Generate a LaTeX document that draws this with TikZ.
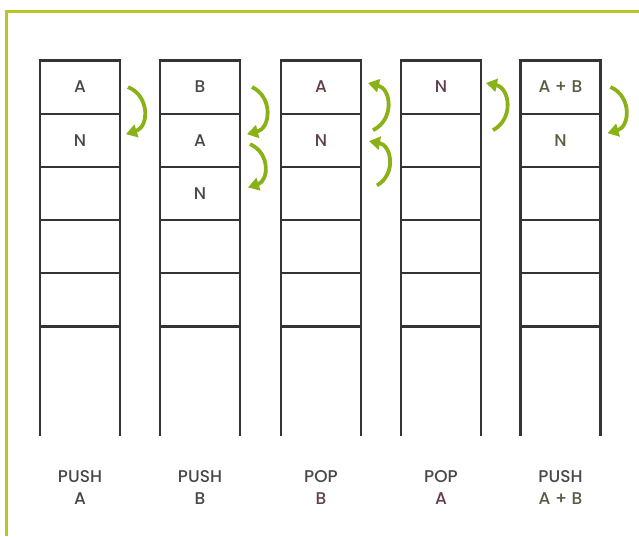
\documentclass[tikz,border=0pt]{standalone}
\usepackage{fontspec}
\setmainfont{Poppins}[UprightFont=* Medium]
\usetikzlibrary{arrows.meta, positioning}
\definecolor{framegreen}{RGB}{184,196,40}
\definecolor{arrowgreen}{RGB}{138,178,22}
\definecolor{stackgray}{RGB}{52,52,52}
\definecolor{inkgray}{RGB}{72,72,72}
\definecolor{inkplum}{RGB}{96,62,82}
\definecolor{inkolive}{RGB}{86,94,66}

\tikzset{
  cell/.style={draw=stackgray, line width=2.2pt, minimum width=80pt,
    minimum height=53.2pt, inner sep=0pt, outer sep=0pt,
    font=\fontsize{17}{20}\selectfont},
  stackline/.style={stackgray, line width=2.2pt},
  flow/.style={arrowgreen, line width=3.8pt, -{Triangle[length=11pt,width=13pt]}},
  oplabel/.style={align=center, text=inkgray, font=\fontsize{17}{22}\selectfont}
}

\begin{document}
\begin{tikzpicture}[x=1pt, y=-1pt]
  \useasboundingbox (0,0) rectangle (639,536);
  % Frame (top and left only)
  \draw[framegreen, line width=3pt] (639,11) -- (6,11) -- (6,536);
  % Five stacks with their operation labels
  \foreach \c/\x/\ta/\tb/\tc/\ink/\opa/\opb in {
      1/80/A/N/{}/inkgray/PUSH/A,
      2/200/B/A/N/inkgray/PUSH/B,
      3/321/A/N/{}/inkplum/POP/B,
      4/441/N/{}/{}/inkplum/POP/A,
      5/560.5/A + B/N/{}/inkolive/PUSH/A + B}
  {
    \node[cell, text=\ink] (c\c-r1) at (\x,87) {\ta};
    \node[cell, text=\ink, below=0pt of c\c-r1] (c\c-r2) {\tb};
    \node[cell, text=\ink, below=0pt of c\c-r2] (c\c-r3) {\tc};
    \node[cell, below=0pt of c\c-r3] (c\c-r4) {};
    \node[cell, below=0pt of c\c-r4] (c\c-r5) {};
    \draw[stackline] (c\c-r5.south west) -- ++(0,110);
    \draw[stackline] (c\c-r5.south east) -- ++(0,110);
    \node[oplabel] (op\c) at (\x,488) {\opa\\\textcolor{\ink}{\opb}};
  }
  % Push arrows (down)
  \draw[flow] ([xshift=8pt]c1-r1.east) to[bend left=70, looseness=1.3] ([shift={(6pt,6pt)}]c1-r2.east);
  \draw[flow] ([xshift=12pt]c2-r1.east) to[bend left=70, looseness=1.3] ([shift={(7pt,6pt)}]c2-r2.east);
  \draw[flow] ([shift={(10pt,-4pt)}]c2-r2.east) to[bend left=70, looseness=1.3] ([shift={(8pt,6pt)}]c2-r3.east);
  \draw[flow] ([xshift=10pt]c5-r1.east) to[bend left=70, looseness=1.3] ([shift={(7pt,7pt)}]c5-r2.east);
  % Pop arrows (up)
  \draw[flow] ([shift={(12pt,10pt)}]c3-r2.east) to[bend right=70, looseness=1.3] ([shift={(7pt,4pt)}]c3-r1.east);
  \draw[flow] ([shift={(16pt,8pt)}]c3-r3.east) to[bend right=70, looseness=1.3] ([shift={(8pt,-1pt)}]c3-r2.east);
  \draw[flow] ([shift={(12pt,10pt)}]c4-r2.east) to[bend right=70, looseness=1.3] ([shift={(5pt,4pt)}]c4-r1.east);
\end{tikzpicture}
\end{document}
